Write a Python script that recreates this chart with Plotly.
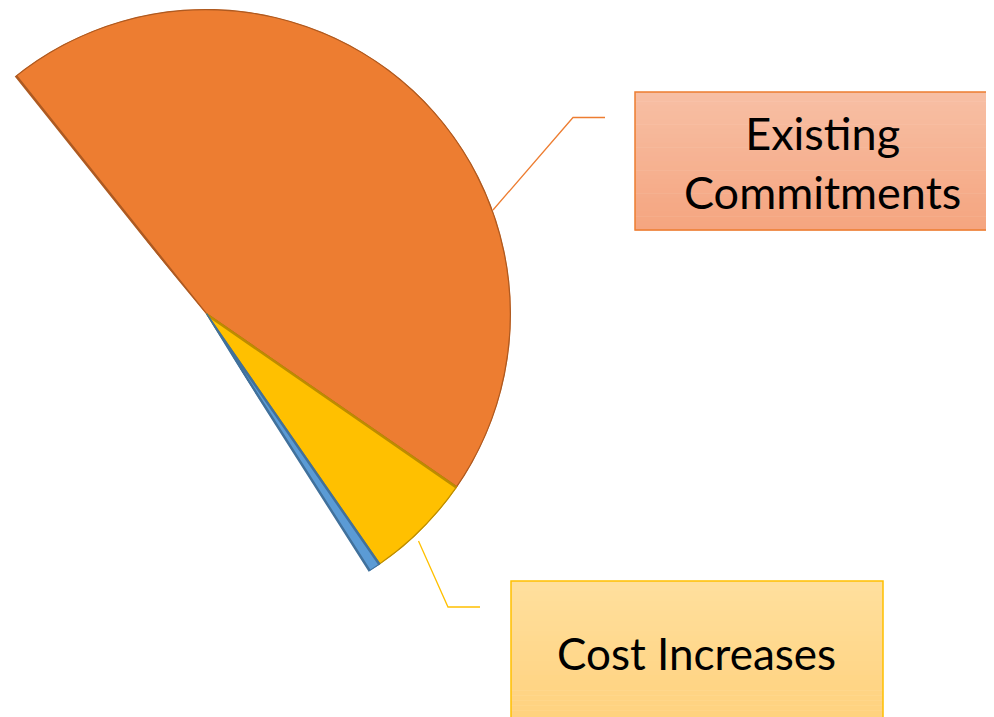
import math
import plotly.graph_objects as go

# page body has an 8px margin; size the figure so it fits the 994x717 window
OFF = 8
W, H = 994 - OFF, 717 - OFF

# ---- data (slice sizes in degrees-equivalent units) ----
categories = ["Existing Commitments", "Cost Increases", "Other", "Hidden"]
values = [163.3, 20.6, 2.2, 173.9]
fill_colors = ["#ED7D31", "#FFC000", "#5B9BD5", "rgba(0,0,0,0)"]
line_colors = ["#AE5A21", "#BC8C00", "#41719C", "rgba(0,0,0,0)"]
line_widths = [2.5, 2.5, 2.5, 0]
label_texts = ["Existing<br>Commitments", "Cost Increases"]

# ---- geometry (layout, in window pixels) ----
cx, cy, R = 206, 314, 305
start_angle = 128.6  # screen-math degrees where the first slice starts


def px_x(x):
    return (x - OFF) / W


def px_y(y):
    return 1 - (y - OFF) / H


def clip01(v):
    return max(0.0, min(1.0, v))


total = sum(values)
scale = 360.0 / total
widths = [v * scale for v in values]
thetas = []
acc = 0.0
for w in widths:
    thetas.append(acc + w / 2)
    acc += w

visible_span = sum(widths[:3])
sec = [start_angle - visible_span - 1.0, start_angle + 1.0]


def sector_bbox(a0, a1):
    pts = [(0.0, 0.0)]
    for a in (a0, a1):
        pts.append((math.cos(math.radians(a)), math.sin(math.radians(a))))
    for k in range(-4, 5):
        a = 90 * k
        if a0 <= a <= a1:
            pts.append((math.cos(math.radians(a)), math.sin(math.radians(a))))
    xs = [p[0] for p in pts]
    ys = [p[1] for p in pts]
    return min(xs), max(xs), min(ys), max(ys)


xmin, xmax, ymin, ymax = sector_bbox(*sec)
left_px = cx + xmin * R
right_px = cx + xmax * R
top_px = cy - ymax * R
bottom_px = cy - ymin * R

fig = go.Figure()
fig.add_trace(go.Barpolar(
    r=[1] * len(values),
    theta=thetas,
    width=widths,
    text=categories,
    marker=dict(color=fill_colors, line=dict(color=line_colors, width=line_widths)),
    hoverinfo="text",
    showlegend=False,
))

shapes = []


def gradient_box(x0, y0, x1, y1, ctop, cbot, border, n=30):
    for i in range(n):
        t = i / (n - 1)
        c = tuple(round(ctop[k] + (cbot[k] - ctop[k]) * t) for k in range(3))
        ya = y0 + (y1 - y0) * i / n
        yb = y0 + (y1 - y0) * (i + 1) / n + 0.6
        shapes.append(dict(type="rect", xref="paper", yref="paper",
                           x0=px_x(x0), x1=px_x(x1), y0=px_y(ya), y1=px_y(yb),
                           fillcolor="rgb(%d,%d,%d)" % c, line=dict(width=0), layer="above"))
    shapes.append(dict(type="rect", xref="paper", yref="paper",
                       x0=px_x(x0), x1=px_x(x1), y0=px_y(y0), y1=px_y(y1),
                       fillcolor="rgba(0,0,0,0)", line=dict(color=border, width=1.5), layer="above"))


def leader(points, color):
    path = "M " + " L ".join("%f,%f" % (px_x(x), px_y(y)) for x, y in points)
    shapes.append(dict(type="path", xref="paper", yref="paper", path=path,
                       line=dict(color=color, width=1.3), layer="above"))


leader([(493, 210), (573, 117.5), (605, 117.5)], "#ED7D31")
leader([(418.5, 541), (448, 607), (480, 607)], "#FFC000")

gradient_box(635, 92, 993, 230, (247, 191, 164), (245, 165, 128), "#ED7D31")
gradient_box(511, 581, 883, 730, (255, 223, 157), (255, 209, 124), "#FFC000")

annotations = [
    dict(x=px_x(822), y=px_y(162), xref="paper", yref="paper", text=label_texts[0],
         showarrow=False, xanchor="center", yanchor="middle",
         font=dict(family="Lato, Carlito, sans-serif", size=45, color="#000000")),
    dict(x=px_x(696), y=px_y(653), xref="paper", yref="paper", text=label_texts[1],
         showarrow=False, xanchor="center", yanchor="middle",
         font=dict(family="Lato, Carlito, sans-serif", size=44, color="#000000")),
]

fig.update_layout(
    width=W, height=H,
    margin=dict(l=0, r=0, t=0, b=0),
    paper_bgcolor="white",
    plot_bgcolor="white",
    polar=dict(
        domain=dict(x=[clip01(px_x(left_px)), clip01(px_x(right_px))],
                    y=[clip01(px_y(bottom_px)), clip01(px_y(top_px))]),
        sector=sec,
        bgcolor="rgba(0,0,0,0)",
        angularaxis=dict(rotation=start_angle, direction="clockwise", visible=False,
                         showgrid=False, showline=False, showticklabels=False, ticks=""),
        radialaxis=dict(range=[0, 1], visible=False, showgrid=False, showline=False,
                        showticklabels=False, ticks=""),
        bargap=0,
    ),
    shapes=shapes,
    annotations=annotations,
)

fig.write_html("out.html")
